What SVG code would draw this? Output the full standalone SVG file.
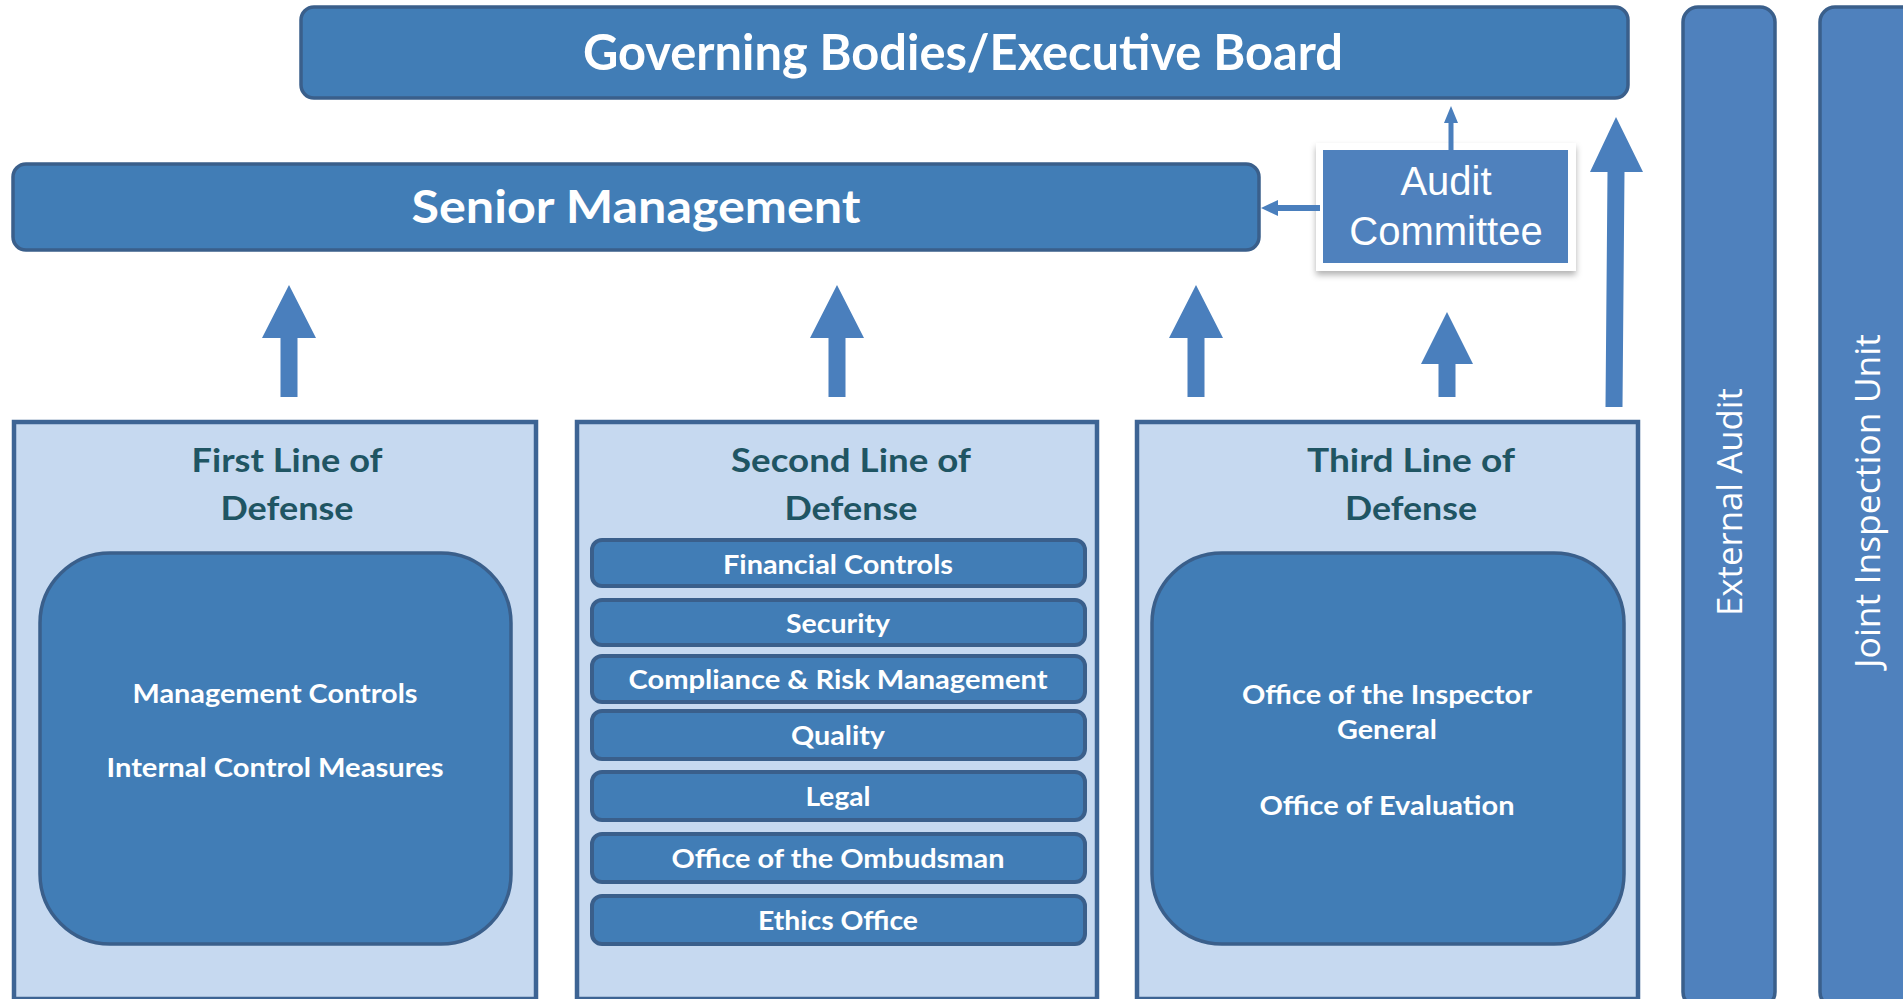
<svg xmlns="http://www.w3.org/2000/svg" width="1903" height="999" viewBox="0 0 1903 999">
<defs>
<filter id="sh" x="-10%" y="-10%" width="130%" height="140%">
<feDropShadow dx="0" dy="4" stdDeviation="3" flood-color="#000" flood-opacity="0.3"/>
</filter>
<style>
.bar{fill:#417db6;stroke:#3a5f8b;stroke-width:3.5}
.ext{fill:#4f81bd;stroke:#3a5f8b;stroke-width:3.5}
.lbox{fill:#c6d9f0;stroke:#3d6494;stroke-width:4.5}
.inner{fill:#417db6;stroke:#3a5f8b;stroke-width:3.5}
.item{fill:#417db6;stroke:#3a5f8b;stroke-width:4}
.arr{fill:#4a7fbd}
.t{font-family:Lato,"Open Sans",sans-serif;font-weight:bold;fill:#fff;text-anchor:middle}
.title{font-family:Lato,"Open Sans",sans-serif;font-weight:bold;fill:#1f5563;text-anchor:middle;font-size:33px}
.it{font-size:27px}
.ac{font-family:"Liberation Sans",Arial,sans-serif;fill:#fff;text-anchor:middle;font-size:40px}
.rt{font-family:"Open Sans","Noto Sans",sans-serif;fill:#fff;text-anchor:middle;font-size:34px}
</style>
</defs>
<rect width="1903" height="999" fill="#fff"/>

<g id="governing">
<rect class="bar" x="301" y="7" width="1327" height="91" rx="13"/>
<text class="t" x="963" y="70" font-size="50" textLength="760" lengthAdjust="spacingAndGlyphs">Governing Bodies/Executive Board</text>
</g>

<g id="senior">
<rect class="bar" x="13" y="164" width="1246" height="86" rx="13"/>
<text class="t" x="636" y="223" font-size="45" textLength="449" lengthAdjust="spacingAndGlyphs">Senior Management</text>
</g>

<g id="audit-committee">
<rect x="1316" y="143" width="260" height="128" fill="#fff" filter="url(#sh)"/>
<rect x="1323" y="150" width="245" height="113" fill="#4f81bd"/>
<text class="ac" x="1446" y="195">Audit</text>
<text class="ac" x="1446" y="245">Committee</text>
</g>

<g id="external-audit">
<rect class="ext" x="1683" y="7" width="92" height="1000" rx="15"/>
<text class="rt" transform="translate(1742,502) rotate(-90)" textLength="228" lengthAdjust="spacingAndGlyphs">External Audit</text>
</g>

<g id="jiu">
<rect class="ext" x="1820" y="7" width="100" height="1000" rx="15"/>
<text class="rt" transform="translate(1880,501) rotate(-90)" textLength="334" lengthAdjust="spacingAndGlyphs">Joint Inspection Unit</text>
</g>

<g id="first-line">
<rect class="lbox" x="14" y="422" width="522" height="577"/>
<text class="title" x="287" y="472" textLength="191" lengthAdjust="spacingAndGlyphs">First Line of</text>
<text class="title" x="287" y="520" textLength="133" lengthAdjust="spacingAndGlyphs">Defense</text>
<rect class="inner" x="40" y="553" width="471" height="391" rx="70"/>
<text class="t it" x="275" y="703" textLength="285" lengthAdjust="spacingAndGlyphs">Management Controls</text>
<text class="t it" x="275" y="777" textLength="337" lengthAdjust="spacingAndGlyphs">Internal Control Measures</text>
</g>

<g id="second-line">
<rect class="lbox" x="577" y="422" width="520" height="577"/>
<text class="title" x="851" y="472" textLength="240" lengthAdjust="spacingAndGlyphs">Second Line of</text>
<text class="title" x="851" y="520" textLength="133" lengthAdjust="spacingAndGlyphs">Defense</text>
<g id="financial"><rect class="item" x="592" y="540" width="493" height="46" rx="10"/><text class="t it" x="838" y="574" textLength="230" lengthAdjust="spacingAndGlyphs">Financial Controls</text></g>
<g id="security"><rect class="item" x="592" y="600" width="493" height="45" rx="10"/><text class="t it" x="838" y="633" textLength="104" lengthAdjust="spacingAndGlyphs">Security</text></g>
<g id="compliance"><rect class="item" x="592" y="656" width="493" height="46" rx="10"/><text class="t it" x="838" y="689" textLength="419" lengthAdjust="spacingAndGlyphs">Compliance &amp; Risk Management</text></g>
<g id="quality"><rect class="item" x="592" y="711" width="493" height="48" rx="10"/><text class="t it" x="838" y="745" textLength="94" lengthAdjust="spacingAndGlyphs">Quality</text></g>
<g id="legal"><rect class="item" x="592" y="772" width="493" height="48" rx="10"/><text class="t it" x="838" y="806" textLength="65" lengthAdjust="spacingAndGlyphs">Legal</text></g>
<g id="ombudsman"><rect class="item" x="592" y="834" width="493" height="48" rx="10"/><text class="t it" x="838" y="868" textLength="333" lengthAdjust="spacingAndGlyphs">Office of the Ombudsman</text></g>
<g id="ethics"><rect class="item" x="592" y="896" width="493" height="48" rx="10"/><text class="t it" x="838" y="930" textLength="160" lengthAdjust="spacingAndGlyphs">Ethics Office</text></g>
</g>

<g id="third-line">
<rect class="lbox" x="1137" y="422" width="501" height="577"/>
<text class="title" x="1411" y="472" textLength="208" lengthAdjust="spacingAndGlyphs">Third Line of</text>
<text class="title" x="1411" y="520" textLength="132" lengthAdjust="spacingAndGlyphs">Defense</text>
<rect class="inner" x="1152" y="553" width="472" height="391" rx="70"/>
<text class="t it" x="1387" y="704" textLength="290" lengthAdjust="spacingAndGlyphs">Office of the Inspector</text>
<text class="t it" x="1387" y="739" textLength="100" lengthAdjust="spacingAndGlyphs">General</text>
<text class="t it" x="1387" y="815" textLength="255" lengthAdjust="spacingAndGlyphs">Office of Evaluation</text>
</g>

<g id="connectors">
<polygon class="arr" points="289,285 316,338 297.5,338 297.5,397 280.5,397 280.5,338 262,338"/>
<polygon class="arr" points="837,285 864,338 845.5,338 845.5,397 828.5,397 828.5,338 810,338"/>
<polygon class="arr" points="1196,285 1223,338 1204.5,338 1204.5,397 1187.5,397 1187.5,338 1169,338"/>
<polygon class="arr" points="1447,312 1473,364 1455.5,364 1455.5,397 1438.5,397 1438.5,364 1421,364"/>
<polygon class="arr" points="1616,117 1643,172 1624.5,172 1622.5,407 1605.5,407 1607.5,172 1590,172"/>
<polygon class="arr" points="1451,106 1458,123 1453.5,123 1453.5,150 1448.5,150 1448.5,123 1444,123"/>
<polygon class="arr" points="1261,208 1278,200 1278,205 1320,205 1320,211 1278,211 1278,216"/>
</g>
</svg>
